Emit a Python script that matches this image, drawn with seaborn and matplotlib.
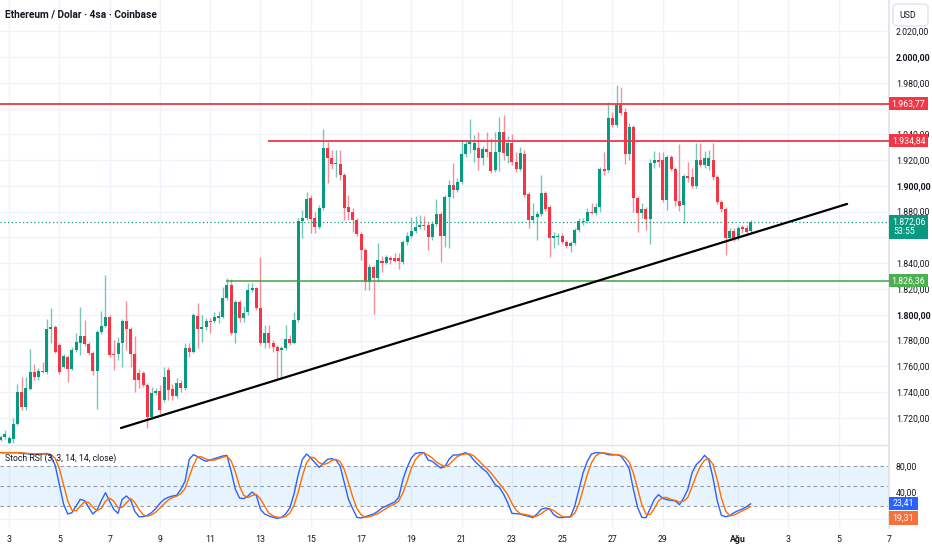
import numpy as np
import pandas as pd
import matplotlib
matplotlib.use("Agg")
import matplotlib.pyplot as plt
import seaborn as sns
from matplotlib.patches import Rectangle, FancyBboxPatch

# ---------------- data ----------------
opens = [
1702.9,1705.2,1700.5,1703.6,1715.3,1740.1,1728.5,1742.4,1755.6,1751.7,
1756.4,1755.6,1788.9,1790.5,1776.6,1759.5,1767.3,1757.9,1772.7,1778.1,
1783.5,1777.3,1770.4,1756.4,1786.7,1791.3,1798.3,1769.6,1769.6,1778.1,
1795.2,1788.9,1769.6,1754.8,1754.8,1745.5,1720.7,1739.3,1740.9,1733.9,
1757.1,1742.4,1737.0,1747.1,1743.2,1774.2,1771.1,1799.1,1788.9,1790.5,
1795.2,1795.2,1797.9,1798.3,1813.0,1823.1,1785.9,1809.9,1797.5,1802.2,
1819.2,1820.8,1805.3,1778.1,1785.9,1778.1,1775.0,1772.7,1774.2,1781.2,
1778.1,1795.9,1872.7,1875.1,1890.6,1875.1,1868.1,1882.8,1929.4,1921.6,
1917.0,1917.0,1908.4,1883.6,1879.7,1873.5,1862.7,1850.2,1825.4,1837.1,
1828.5,1841.7,1840.2,1844.0,1844.0,1844.0,1840.9,1856.5,1861.1,1865.0,
1868.1,1869.6,1869.6,1860.3,1870.4,1878.2,1861.1,1891.4,1900.7,1896.8,
1903.0,1924.7,1932.5,1927.8,1929.4,1921.6,1928.6,1926.3,1912.3,1926.3,
1941.8,1923.2,1933.3,1918.5,1913.1,1924.7,1893.7,1873.5,1875.9,1878.2,
1894.5,1883.6,1859.6,1860.3,1861.1,1856.5,1853.4,1855.7,1865.8,1872.0,
1872.7,1879.7,1878.9,1883.6,1913.1,1912.3,1952.7,1947.4,1962.8,1957.3,
1924.7,1945.7,1890.6,1878.9,1882.1,1874.3,1917.7,1920.1,1920.1,1889.0,
1922.4,1913.1,1888.3,1885.2,1907.7,1906.9,1899.9,1920.1,1916.2,1915.4,
1920.1,1906.9,1887.5,1882.1,1859.6,1865.0,1859.6,1868.1,1867.3,1865.0]

closes = [
1705.2,1707.5,1704.4,1715.3,1740.1,1728.5,1743.2,1755.6,1751.7,1756.4,
1755.6,1788.9,1790.5,1771.1,1755.6,1768.0,1757.9,1772.7,1778.9,1783.5,
1777.3,1770.4,1756.4,1786.7,1791.3,1798.3,1768.8,1768.8,1778.1,1795.2,
1788.9,1769.6,1749.4,1749.4,1745.5,1720.7,1739.3,1740.9,1726.1,1751.7,
1741.6,1737.0,1747.1,1743.2,1774.2,1771.1,1799.8,1788.9,1790.5,1795.2,
1794.4,1798.3,1799.1,1813.0,1823.1,1785.9,1809.9,1797.5,1801.4,1819.2,
1820.8,1805.3,1778.1,1785.9,1778.1,1775.0,1771.9,1774.2,1781.2,1778.1,
1795.9,1872.7,1875.1,1889.8,1874.3,1868.1,1882.8,1929.4,1921.6,1917.0,
1917.7,1908.4,1882.8,1879.7,1873.5,1862.7,1850.2,1825.4,1837.1,1828.5,
1842.5,1840.2,1844.8,1842.5,1841.7,1841.7,1856.5,1861.1,1865.0,1868.1,
1869.6,1868.9,1860.3,1870.4,1878.2,1861.1,1891.4,1900.7,1896.8,1903.0,
1924.7,1932.5,1934.0,1933.3,1921.6,1928.6,1926.3,1911.5,1926.3,1941.8,
1925.5,1933.3,1918.5,1913.1,1925.5,1892.9,1873.5,1876.6,1878.2,1894.5,
1882.1,1859.6,1861.1,1861.1,1856.5,1853.4,1855.7,1865.8,1872.7,1872.7,
1879.7,1878.9,1883.6,1913.1,1911.5,1952.7,1947.4,1962.8,1956.5,1924.7,
1945.7,1890.6,1878.9,1882.1,1874.3,1917.7,1920.1,1918.5,1889.0,1922.4,
1913.1,1888.3,1884.4,1907.7,1906.1,1899.9,1920.1,1916.2,1921.6,1921.6,
1906.9,1887.5,1882.1,1859.6,1865.0,1859.6,1867.3,1866.5,1864.2,1872.06]

highs = [
1706.7,1710.6,1706.0,1719.9,1746.3,1751.7,1751.7,1773.5,1761.8,1758.7,
1763.4,1796.7,1805.3,1792.1,1778.1,1769.6,1768.8,1775.0,1785.9,1806.0,
1795.9,1778.9,1771.9,1788.2,1802.9,1830.9,1799.8,1780.4,1782.8,1796.7,
1810.7,1790.5,1783.5,1757.9,1756.4,1747.1,1744.0,1743.2,1745.5,1759.5,
1759.5,1746.3,1750.9,1749.4,1778.1,1778.1,1801.4,1809.1,1799.8,1797.5,
1797.5,1802.2,1802.9,1821.6,1828.5,1827.8,1811.5,1811.5,1806.8,1824.7,
1824.7,1821.6,1844.8,1792.1,1792.1,1780.4,1776.6,1775.8,1792.1,1784.3,
1802.2,1875.1,1881.3,1895.2,1892.9,1879.8,1885.2,1944.1,1934.0,1927.8,
1927.8,1927.8,1910.0,1892.9,1882.8,1875.1,1864.2,1851.8,1839.4,1838.6,
1855.7,1845.6,1846.4,1845.6,1847.9,1847.9,1858.0,1864.2,1875.9,1876.6,
1877.4,1876.6,1872.0,1872.0,1889.8,1879.7,1892.9,1904.6,1917.7,1906.1,
1935.6,1934.9,1951.9,1939.5,1941.8,1930.9,1941.8,1937.2,1941.8,1953.4,
1955.0,1938.7,1940.2,1926.3,1930.2,1927.8,1895.2,1886.7,1880.5,1908.4,
1896.0,1885.2,1864.2,1863.4,1863.4,1858.0,1857.2,1867.3,1875.1,1875.1,
1882.8,1886.7,1886.7,1914.6,1926.3,1965.1,1957.3,1978.3,1976.7,1960.4,
1948.8,1947.2,1892.1,1886.7,1883.6,1920.9,1927.1,1926.3,1926.3,1924.0,
1924.0,1914.6,1932.5,1909.2,1918.5,1913.9,1933.3,1933.3,1927.1,1927.8,
1933.3,1908.4,1889.0,1883.6,1867.3,1867.3,1868.9,1869.6,1869.6,1873.5]

lows = [
1702.1,1703.6,1699.8,1700.5,1714.5,1726.1,1726.1,1741.6,1749.4,1749.4,
1754.8,1754.0,1778.1,1770.4,1754.0,1758.7,1747.9,1757.1,1771.1,1768.8,
1775.8,1768.8,1753.3,1726.9,1785.1,1790.5,1767.3,1757.1,1764.9,1759.5,
1772.7,1759.5,1740.1,1743.2,1744.0,1712.2,1719.1,1737.8,1723.0,1732.3,
1733.9,1733.9,1735.4,1740.1,1741.6,1767.3,1770.4,1774.2,1778.9,1788.2,
1785.9,1793.6,1793.6,1797.5,1811.5,1784.3,1778.1,1794.4,1794.4,1799.8,
1817.7,1803.7,1776.6,1774.2,1774.2,1771.1,1749.4,1751.0,1772.7,1776.6,
1777.3,1794.4,1859.6,1873.5,1863.4,1863.4,1866.5,1881.3,1902.2,1913.1,
1906.9,1904.6,1873.5,1873.5,1864.2,1861.1,1842.5,1819.2,1819.2,1800.6,
1825.4,1833.2,1839.4,1839.4,1840.9,1835.5,1839.4,1854.1,1859.6,1863.4,
1866.5,1865.8,1850.2,1858.0,1868.9,1840.9,1852.6,1851.8,1890.6,1895.2,
1901.5,1922.4,1925.5,1918.5,1912.3,1916.2,1922.4,1910.0,1910.8,1911.5,
1920.1,1917.7,1916.2,1910.8,1911.5,1891.4,1867.3,1872.0,1858.0,1876.6,
1880.5,1844.8,1851.8,1854.1,1854.9,1851.8,1848.7,1854.1,1864.2,1869.6,
1871.2,1878.2,1877.4,1879.7,1908.4,1910.8,1945.7,1945.7,1955.0,1917.0,
1920.1,1879.7,1864.2,1875.1,1865.8,1854.9,1913.9,1914.6,1887.5,1881.3,
1911.5,1884.4,1880.5,1871.2,1903.0,1898.3,1898.3,1914.6,1913.9,1912.3,
1904.6,1885.9,1879.7,1846.4,1858.0,1857.2,1858.0,1863.4,1861.9,1863.4]

stoch_k = [
100,100,100,100,100,99,98.5,98,97.5,98,
98,99,95,81,52,23,8,10,20,30,
28,18,8,14,28,40,27,15,9,30,
35,29,12,4,4,6,10,16,24,30,
33,35,36,45,57,90,97,94,90,87,
89,91,93,95,96,72,45,32,31,35,
41,36,15,8,5,3,1.5,3,8,17,
38,67,90,98,92,85,78,84,90,91,
89,80,55,30,16,3,2,4,6,8,
12,17,20,23,26,33,60,78,92,99,
100,100,89,87,82,77,79,90,96.5,96.5,
98,100,96,88,82,76,71,62,52,48,
38,25,9,8.5,7.8,6,4.5,2.6,8,15,
17,15.5,7,3,2.5,3.5,4,20,45,70,
87,98,100,100,99,97,96.5,97,95,86.5,
76,45,18,3,2.5,16,30,37,31.5,29.5,
28.5,27.5,22,32,45,70,82,88,96,89,
62,28,6,4,5.5,10,13,15.5,19,23.41]

stoch_d = [
100,100,100,100,100,99.7,99.2,98.5,98,97.8,
97.8,98.3,97.3,91.7,76,52,27.7,13.7,12.7,20,
26,25.3,18,13.3,16.7,27.3,31.7,27.3,17,18,
24.7,31.3,25.3,15,6.7,4.7,6.7,10.7,16.7,23.3,
29,32.7,34.7,38.7,46,64,81.3,93.7,93.7,90.3,
88.7,89,91,93,94.7,87.7,71,49.7,36,32.7,
35.7,37.3,30.7,19.7,9.3,5.3,3.2,2.5,4.2,9.3,
21,40.7,65,85,93.3,91.7,85,82.3,84,88.3,
90,86.7,74.7,55,33.7,16.3,7,3,4,6,
8.7,12.3,16.3,20,23,27.3,39.7,57,76.7,89.7,
97,99.7,96.3,92,86,82,79.3,82,88.5,94.3,
97,98.2,98,94.7,88.7,82,76.3,69.7,61.7,54,
46,37,24,14,8.4,7.4,6.1,4.4,5,8.5,
13.3,15.8,13.2,8.5,4.2,3,3.3,9.2,23,45,
67.3,85,95,99.3,99.7,98.7,97.5,96.8,96.2,92.8,
85.8,69.2,46.3,22,7.8,7.2,16.2,27.7,32.8,32.7,
29.8,28.5,26,27.2,33,49,65.7,80,88.7,91,
82.3,59.7,32,12.7,5.2,6.5,9.5,12.8,15.8,19.31]

resistance_levels = [1963.77, 1934.84]
resistance_start = [-0.2, 63.8]
support_level = 1826.36
support_start = 53.8
trend_idx = [28.7, 202.0]
trend_price = [1712.2, 1886.0]
countdown = "53:55"
date_days = [3, 5, 7, 9, 11, 13, 15, 17, 19, 21, 23, 25, 27, 29, 32, 34, 36, 38]
date_labels = ["3", "5", "7", "9", "11", "13", "15", "17", "19", "21", "23", "25",
               "27", "29", "Ağu", "3", "5", "7"]
price_ticks = [1720, 1740, 1760, 1780, 1800, 1820, 1840, 1880, 1900, 1920,
               1940, 1980, 2000, 2020]
rsi_ticks = [80, 40]
title = "Ethereum / Dolar · 4sa · Coinbase"
rsi_title = "Stoch RSI (3, 3, 14, 14, close)"

# ---------------- style ----------------
GREEN = "#089981"
RED = "#f23645"
TXT = "#131722"
GRID = "#f0f3fa"
W, H = 932, 550
FS = 6.3

sns.set_theme(style="white")
plt.rcParams["font.family"] = ["Roboto", "DejaVu Sans"]

def tr(v):
    s = f"{v:,.2f}"
    return s.replace(",", "X").replace(".", ",").replace("X", ".")

fig = plt.figure(figsize=(W / 100, H / 100), dpi=100)
fig.patch.set_facecolor("white")

def fy(y):
    return 1 - y / H

ax = fig.add_axes([0, fy(444), 889 / W, 444 / H])
ax2 = fig.add_axes([0, fy(528), 889 / W, (528 - 446) / H])

XL = (-0.167, 212.0)
ax.set_xlim(XL)
ax.set_ylim(1699.8, 2044.2)

o = np.array(opens); c = np.array(closes); h = np.array(highs); l = np.array(lows)
idx = np.arange(len(c))
up = c >= o
cols = np.where(up, GREEN, RED)

date_idx = [2 + 6 * (d - 3) for d in date_days]

# grid
for xv in date_idx:
    ax.axvline(xv, color=GRID, lw=1, zorder=0)
    ax2.axvline(xv, color=GRID, lw=1, zorder=0)
for yv in list(range(1720, 2040, 20)):
    ax.axhline(yv, color=GRID, lw=1, zorder=0)

# candles
ax.vlines(idx, l, h, colors=cols, linewidth=1, alpha=0.55, zorder=2)
body = np.maximum(np.abs(c - o), 0.9)
ax.bar(idx, body, bottom=np.minimum(o, c), width=0.72, color=cols, linewidth=0, zorder=3)

# levels
ax.hlines(resistance_levels[0], resistance_start[0], XL[1], color=RED, lw=1.3, zorder=4)
ax.hlines(resistance_levels[1], resistance_start[1], XL[1], color=RED, lw=1.3, zorder=4)
ax.hlines(support_level, support_start, XL[1], color="#43a047", lw=1.1, zorder=4)
ax.plot(trend_idx, trend_price, color="#000000", lw=1.6, zorder=5, solid_capstyle="round")
ax.axhline(closes[-1], color=GREEN, lw=0.9, ls=(0, (1, 2)), zorder=1)

# price axis ticks
ax.set_yticks(price_ticks)
ax.set_yticklabels([tr(v) for v in price_ticks])
ax.yaxis.tick_right()
ax.tick_params(axis="y", length=0, pad=5, labelsize=FS, labelcolor=TXT)
for lab, v in zip(ax.get_yticklabels(), price_ticks):
    if v % 100 == 0:
        lab.set_fontweight("bold")
ax.set_xticks([])
for s in ["top", "left", "bottom"]:
    ax.spines[s].set_visible(False)
ax.spines["right"].set_color("#e0e3eb")

# stoch rsi
ax2.set_xlim(XL)
ax2.set_ylim(-13, 110)
ax2.axhline(0, color=GRID, lw=1, zorder=0)
ax2.axhspan(20, 80, color="#2196f3", alpha=0.1, lw=0, zorder=0)
for lv in [80, 50, 20]:
    ax2.axhline(lv, color="#9598a1", lw=0.8, ls=(0, (3, 3)), zorder=1)
rsi = pd.DataFrame({"i": idx, "K": stoch_k, "D": stoch_d})
sns.lineplot(data=rsi, x="i", y="K", ax=ax2, color="#2962ff", lw=1.0, zorder=3)
sns.lineplot(data=rsi, x="i", y="D", ax=ax2, color="#ff6d00", lw=1.0, zorder=4)
ax2.set_xlabel(""); ax2.set_ylabel("")
ax2.set_yticks(rsi_ticks)
ax2.set_yticklabels([tr(v) for v in rsi_ticks])
ax2.yaxis.tick_right()
ax2.tick_params(axis="y", length=0, pad=5, labelsize=FS, labelcolor=TXT)
ax2.set_xticks(date_idx)
ax2.set_xticklabels(date_labels)
ax2.tick_params(axis="x", length=0, pad=5, labelsize=FS, labelcolor=TXT)
for lab, t in zip(ax2.get_xticklabels(), date_labels):
    if t == "Ağu":
        lab.set_fontweight("bold")
for s in ["top", "left", "bottom"]:
    ax2.spines[s].set_visible(False)
ax2.spines["right"].set_color("#e0e3eb")

# separator between panes
fig.add_artist(plt.Line2D([0, 889 / W], [fy(445), fy(445)], color="#e0e3eb", lw=1))

# right-hand value boxes
def ybox(axis, v):
    disp = axis.transData.transform((0, v))
    return fig.transFigure.inverted().transform(disp)[1]

def vbox(yc, text, fc, x0=889, x1=928, hpx=13):
    hh = hpx / H
    fig.add_artist(Rectangle((x0 / W, yc - hh / 2), (x1 - x0) / W, hh,
                             transform=fig.transFigure, fc=fc, ec="none", zorder=20))
    fig.text((x0 + x1) / 2 / W, yc, text, ha="center", va="center",
             color="white", fontsize=FS, zorder=21)

vbox(ybox(ax, resistance_levels[0]), tr(resistance_levels[0]), RED)
vbox(ybox(ax, resistance_levels[1]), tr(resistance_levels[1]), RED)
yc_last = ybox(ax, closes[-1])
fig.add_artist(Rectangle((889 / W, yc_last - 17 / H), 39 / W, 24 / H,
                         transform=fig.transFigure, fc=GREEN, ec="none", zorder=20))
fig.text(908.5 / W, yc_last, tr(closes[-1]), ha="center", va="center", color="white",
         fontsize=FS, zorder=21)
fig.text(893 / W, yc_last - 10 / H, countdown, ha="left", va="center", color="white",
         fontsize=FS, zorder=21)
vbox(ybox(ax, support_level), tr(support_level), "#4caf50")
vbox(fy(503.5), tr(stoch_k[-1]), "#2962ff", x1=918, hpx=13)
vbox(fy(518), tr(stoch_d[-1]), "#f7703c", x1=918, hpx=14)

# USD box
fig.add_artist(FancyBboxPatch((893 / W, fy(26)), 35 / W, 22 / H,
                              boxstyle="round,pad=0,rounding_size=0.006",
                              transform=fig.transFigure, fc="white", ec="#e0e3eb",
                              lw=1, zorder=20))
fig.text(899 / W, fy(15), "USD", ha="left", va="center", color=TXT, fontsize=FS, zorder=21)

# titles
fig.text(5 / W, fy(14), title, ha="left", va="center", color=TXT, fontsize=7.3,
         fontweight="bold", zorder=21)
fig.text(5 / W, fy(458), rsi_title, ha="left", va="center",
         color=TXT, fontsize=FS, zorder=21)

fig.savefig("out.png", dpi=100, facecolor="white")
